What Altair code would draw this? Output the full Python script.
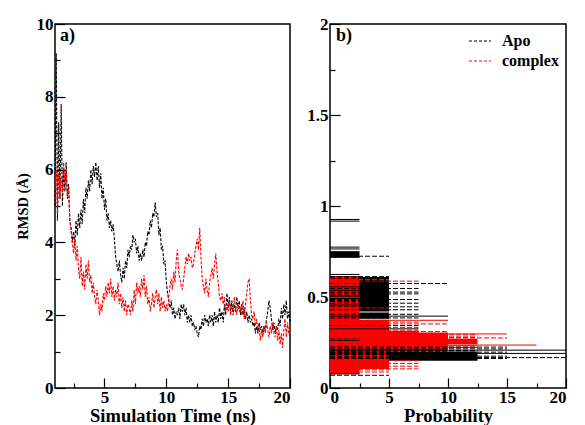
import altair as alt
import pandas as pd

FONT = "Liberation Serif"

# ---------------- panel a: RMSD time series ----------------
time_ns = [round(1.0 + 0.1 * i, 1) for i in range(191)]

apo_rmsd = [
    5.0, 9.2, 4.6, 7.3, 5.2, 7.8, 5.0, 6.0, 5.4, 6.2,
    5.2, 5.6, 4.6, 4.4, 4.0, 4.3, 3.9, 4.6, 4.2, 4.8,
    4.4, 4.9, 4.5, 5.2, 4.8, 5.5, 5.2, 5.7, 5.4, 6.0,
    5.6, 6.1, 5.8, 6.2, 5.7, 6.1, 5.5, 5.9, 5.2, 5.5,
    4.9, 5.2, 4.6, 4.8, 4.4, 4.6, 4.3, 4.5, 4.1, 3.6,
    3.4, 3.2, 3.5, 3.1, 2.9, 3.3, 3.0, 3.5, 3.3, 3.8,
    3.6, 3.9, 3.8, 4.2, 4.0, 4.1, 3.7, 3.9, 3.5, 3.7,
    3.5, 3.8, 3.6, 4.0, 3.9, 4.3, 4.2, 4.6, 4.4, 4.8,
    4.7, 5.1, 4.7, 4.8, 4.2, 4.4, 3.8, 3.9, 3.4, 3.5,
    2.9, 2.6, 2.4, 2.2, 2.4, 2.0, 2.2, 1.9, 2.1, 2.0,
    2.2, 1.9, 2.3, 2.1, 2.3, 2.0, 2.2, 1.8, 2.0, 1.8,
    2.0, 1.7, 1.8, 1.6, 1.7, 1.5, 1.4, 1.7, 1.6, 1.9,
    1.7, 2.0, 1.8, 1.9, 1.7, 2.0, 1.8, 2.0, 1.7, 2.1,
    1.8, 2.0, 1.8, 2.2, 1.9, 2.1, 1.8, 2.3, 2.0, 2.6,
    2.2, 2.5, 2.1, 2.4, 2.0, 2.3, 2.1, 2.5, 2.2, 2.4,
    2.0, 2.3, 2.0, 2.2, 1.9, 2.1, 1.8, 2.0, 1.8, 1.9,
    1.7, 1.8, 1.5, 1.7, 1.5, 1.8, 1.6, 1.7, 1.5, 1.7,
    1.6, 1.9, 2.1, 2.4, 2.2, 1.9, 1.6, 1.8, 1.5, 1.7,
    1.6, 1.9, 1.7, 2.2, 1.9, 2.3, 2.0, 2.4, 1.9, 2.1,
    1.8,
]

complex_rmsd = [
    5.5, 6.0, 4.8, 5.9, 5.2, 5.8, 5.4, 6.2, 5.6, 6.0,
    5.3, 5.5, 4.6, 4.3, 4.0, 3.7, 4.1, 3.5, 3.9, 3.3,
    3.0, 3.6, 2.8, 3.2, 2.7, 3.4, 3.0, 3.5, 2.9, 3.1,
    2.6, 2.9, 2.5, 2.3, 2.7, 2.4, 2.0, 2.3, 2.1, 2.6,
    2.4, 2.8, 2.5, 2.9, 2.6, 3.0, 2.5, 2.8, 2.4, 2.7,
    2.5, 2.9, 2.3, 2.6, 2.2, 2.5, 2.1, 2.4, 2.0, 2.3,
    2.2, 2.0, 2.4, 2.1, 2.7, 2.3, 2.9, 2.6, 2.8, 2.5,
    3.0, 2.7, 3.1, 2.5, 2.8, 2.3, 2.5, 2.1, 2.3, 2.6,
    2.2, 2.5, 2.7, 2.3, 2.6, 2.1, 2.5, 2.2, 2.4, 2.1,
    2.3, 2.1, 2.5, 2.8, 3.0, 2.7, 3.2, 2.9, 3.5, 3.8,
    3.2, 3.0, 2.8, 2.7, 3.0, 3.3, 3.6, 3.4, 3.7, 3.5,
    3.6, 3.3, 3.4, 3.7, 3.9, 4.1, 3.8, 4.4, 3.6, 3.0,
    2.8, 2.6, 3.0, 2.7, 2.5, 2.9, 3.1, 3.3, 3.0, 3.4,
    3.7, 3.2, 2.9, 2.5, 2.4, 2.6, 2.3, 2.5, 2.1, 2.3,
    2.1, 2.4, 2.0, 2.3, 2.1, 2.5, 2.2, 2.0, 2.3, 2.1,
    2.2, 2.0, 2.4, 1.9, 2.3, 2.6, 2.9, 3.0, 2.4, 2.0,
    1.9, 2.1, 1.7, 1.9, 1.5, 1.7, 1.3, 1.6, 1.4, 1.7,
    1.5, 1.8, 1.6, 1.4, 1.7, 1.5, 1.8, 1.5, 1.4, 1.7,
    1.3, 1.6, 1.2, 1.5, 1.1, 1.6, 1.9, 1.4, 1.8, 1.5,
    1.7,
]

# ---------------- panel b: probability strokes ----------------
# dense filled bands (drawn first, Apo underneath complex)
block_series = ["Apo", "Apo", "Apo", "Apo",
                "complex", "complex", "complex", "complex", "complex"]
block_lo = [0.715, 0.420, 0.380, 0.150, 0.075, 0.105, 0.200, 0.200, 0.240]
block_hi = [0.752, 0.610, 0.415, 0.200, 0.615, 0.375, 0.315, 0.305, 0.270]
block_len = [2.5, 5.0, 5.0, 12.5, 2.5, 5.0, 7.5, 10.0, 12.5]

# individual strokes: series, RMSD (nm), probability length, line style
seg_series = [
    "Apo", "Apo", "Apo", "Apo", "Apo", "Apo",
    "Apo", "Apo", "Apo", "Apo", "Apo", "Apo",
    "Apo", "Apo",
    "Apo", "Apo", "complex", "complex", "Apo",
    "Apo", "Apo", "Apo", "Apo", "Apo", "Apo",
    "Apo", "Apo", "Apo", "Apo", "Apo", "complex", "Apo",
    "Apo", "Apo", "Apo",
    "complex", "complex", "complex", "Apo", "complex", "Apo", "complex",
    "complex", "complex",
    "Apo", "Apo", "complex", "complex", "complex", "complex", "complex",
    "complex", "Apo",
    "complex", "complex", "complex", "complex", "complex", "Apo",
    "complex", "complex", "Apo", "Apo", "Apo", "Apo", "Apo",
    "complex", "Apo", "Apo", "Apo",
]
seg_y = [
    0.926, 0.917, 0.774, 0.764, 0.724, 0.624,
    0.505, 0.492, 0.480, 0.272, 0.262, 0.232,
    0.078, 0.070,
    0.612, 0.604, 0.596, 0.587, 0.574,
    0.556, 0.547, 0.537, 0.527, 0.517, 0.506,
    0.486, 0.476, 0.466, 0.456, 0.446, 0.440, 0.430,
    0.405, 0.395, 0.385,
    0.372, 0.362, 0.352, 0.343, 0.333, 0.325, 0.318,
    0.100, 0.088,
    0.195, 0.184, 0.165, 0.150, 0.135, 0.120, 0.105,
    0.310, 0.203,
    0.295, 0.285, 0.277, 0.232, 0.222, 0.206,
    0.297, 0.275, 0.225, 0.215, 0.197, 0.175, 0.162,
    0.236, 0.208, 0.190, 0.167,
]
seg_len = [
    2.5, 2.5, 2.5, 2.5, 5.0, 2.5,
    2.5, 2.5, 2.5, 2.5, 2.5, 2.5,
    2.5, 5.0,
    5.0, 5.0, 5.0, 7.5, 10.0,
    5.0, 7.5, 5.0, 7.5, 7.5, 5.0,
    7.5, 5.0, 7.5, 5.0, 7.5, 5.0, 7.5,
    7.5, 10.0, 7.5,
    10.0, 7.5, 10.0, 7.5, 7.5, 7.5, 7.5,
    5.0, 5.0,
    7.5, 7.5, 7.5, 7.5, 7.5, 7.5, 7.5,
    10.0, 10.0,
    12.5, 12.5, 12.5, 12.5, 12.5, 12.5,
    15.0, 15.0, 15.0, 15.0, 15.0, 15.0, 15.0,
    17.5, 20.0, 20.0, 20.0,
]
seg_style = [
    "solid", "solid", "solid", "solid", "dash", "solid",
    "solid", "solid", "dash", "dash", "solid", "dash",
    "solid", "dash",
    "dash", "dash", "dash", "dash", "dash",
    "solid", "dash", "solid", "dash", "dash", "solid",
    "dash", "dash", "dash", "solid", "dash", "dash", "dash",
    "dash", "solid", "dash",
    "solid", "dash", "dash", "dash", "dash", "solid", "dash",
    "dash", "dash",
    "dash", "dash", "dash", "dash", "dash", "dash", "dash",
    "dash", "dash",
    "dash", "dash", "dash", "solid", "solid", "dash",
    "solid", "dash", "dash", "dash", "dash", "dash", "dash",
    "solid", "solid", "solid", "dash",
]

series_names = ["Apo", "complex"]
series_colors = ["black", "red"]

# ---------------- tables ----------------
n_t = len(time_ns)
ts = pd.DataFrame({
    "time": time_ns + time_ns,
    "rmsd": apo_rmsd + complex_rmsd,
    "series": ["Apo"] * n_t + ["complex"] * n_t,
})
blocks = pd.DataFrame({
    "series": block_series, "lo": block_lo, "hi": block_hi,
    "len": block_len, "start": [0.0] * len(block_len),
    "order": list(range(len(block_len))),
})
segs = pd.DataFrame({
    "series": seg_series, "y": seg_y, "len": seg_len,
    "style": seg_style, "start": [0.0] * len(seg_len),
})
legend_df = pd.DataFrame({"series": series_names})

color_scale = alt.Scale(domain=series_names, range=series_colors)
MAJ = 10
MIN = 5

AX = dict(labelFont=FONT, labelFontWeight="bold", labelFontSize=17,
          labelColor="black", titleFont=FONT, titleFontWeight="bold",
          titleFontSize=18.5, titleColor="black", tickColor="black",
          tickWidth=1.2, domain=False, grid=False)
MINOR = dict(labels=False, domain=False, grid=False, title=None,
             tickColor="black", tickWidth=1.2)

# ---------------- panel a ----------------
xa = alt.Scale(domain=[1, 20], nice=False, zero=False)
ya = alt.Scale(domain=[0, 10], nice=False)

lines = alt.Chart(ts).mark_line(strokeWidth=1.1, strokeDash=[3, 1.5]).encode(
    x=alt.X("time:Q", scale=xa, axis=alt.Axis(
        orient="bottom", values=[5, 10, 15, 20], offset=-MAJ, tickSize=MAJ,
        labelPadding=1, titlePadding=1, title="Simulation Time (ns)", **AX)),
    y=alt.Y("rmsd:Q", scale=ya, axis=alt.Axis(
        orient="left", values=[0, 2, 4, 6, 8, 10], offset=-MAJ, tickSize=MAJ,
        labelPadding=2, titlePadding=6, title="RMSD (Å)",
        **{**AX, "titleFontSize": 14.5})),
    color=alt.Color("series:N", scale=color_scale, legend=None),
)

minor_a = alt.Chart(ts).mark_point(opacity=0).encode(
    x=alt.X("time:Q", scale=xa, axis=alt.Axis(
        orient="bottom", values=[2.5, 7.5, 12.5, 17.5], offset=-MIN,
        tickSize=MIN, **MINOR)),
    y=alt.Y("rmsd:Q", scale=ya, axis=alt.Axis(
        orient="left", values=[1, 3, 5, 7, 9], offset=-MIN, tickSize=MIN,
        **MINOR)),
)

label_a = alt.Chart(pd.DataFrame({"t": ["a)"]})).mark_text(
    align="left", baseline="alphabetic", font=FONT, fontWeight="bold",
    fontSize=18, color="black").encode(
    x=alt.value(5), y=alt.value(17), text="t:N")

panel_a = alt.layer(lines, minor_a, label_a).resolve_axis(
    x="independent", y="independent").properties(width=235, height=364)

# ---------------- panel b ----------------
xb = alt.Scale(domain=[0, 20], nice=False)
yb = alt.Scale(domain=[0, 2], nice=False)

rects = alt.Chart(blocks).mark_rect(strokeWidth=0).encode(
    x=alt.X("start:Q", scale=xb, axis=alt.Axis(
        orient="bottom", values=[0, 5, 10, 15, 20], offset=-MAJ, tickSize=MAJ,
        labelPadding=1, titlePadding=1, title="Probability", **AX)),
    x2="len:Q",
    y=alt.Y("lo:Q", scale=yb, axis=alt.Axis(
        orient="left", values=[0, 0.5, 1, 1.5, 2], offset=-MAJ, tickSize=MAJ,
        format="~g", labelPadding=2, title=None, **AX)),
    y2="hi:Q",
    fill=alt.Fill("series:N", scale=color_scale, legend=None),
    order=alt.Order("order:Q"),
)

rules = alt.Chart(segs).mark_rule(strokeWidth=1).encode(
    x=alt.X("start:Q", scale=xb, axis=alt.Axis(
        orient="bottom", values=[2.5, 7.5, 12.5, 17.5], offset=-MIN,
        tickSize=MIN, **MINOR)),
    x2="len:Q",
    y=alt.Y("y:Q", scale=yb, axis=alt.Axis(
        orient="left", values=[0.25, 0.75, 1.25, 1.75], offset=-MIN,
        tickSize=MIN, **MINOR)),
    color=alt.Color("series:N", scale=color_scale, legend=None),
    strokeDash=alt.StrokeDash("style:N", scale=alt.Scale(
        domain=["solid", "dash"], range=[[1, 0], [5, 2]]), legend=None),
)

# legend built from the series names (dashed sample line + label)
leg_y = alt.Y("series:N", scale=alt.Scale(type="point", domain=series_names,
                                          range=[17, 37], padding=0), axis=None)
leg_lines = alt.Chart(legend_df).mark_rule(
    strokeWidth=1, strokeDash=[3, 2]).encode(
    x=alt.value(139), x2=alt.value(161), y=leg_y,
    color=alt.Color("series:N", scale=color_scale, legend=None))
leg_text = alt.Chart(legend_df).mark_text(
    align="left", baseline="middle", font=FONT, fontWeight="bold",
    fontSize=16, color="black").encode(
    x=alt.value(172), y=leg_y, text="series:N")

label_b = alt.Chart(pd.DataFrame({"t": ["b)"]})).mark_text(
    align="left", baseline="alphabetic", font=FONT, fontWeight="bold",
    fontSize=18, color="black").encode(
    x=alt.value(6), y=alt.value(17), text="t:N")

panel_b = alt.layer(rects, rules, leg_lines, leg_text, label_b).resolve_axis(
    x="independent", y="independent").resolve_scale(
    y="independent").properties(width=236, height=364)

chart = alt.hconcat(panel_a, panel_b, spacing=12).resolve_scale(
    color="independent", fill="independent").configure(
    font=FONT).configure_view(
    stroke="black", strokeWidth=1.5).properties(
    padding={"left": 6, "top": 6, "right": 0, "bottom": 0},
    background="white")

chart.save("out.html", embed_options={"renderer": "svg", "actions": False})
